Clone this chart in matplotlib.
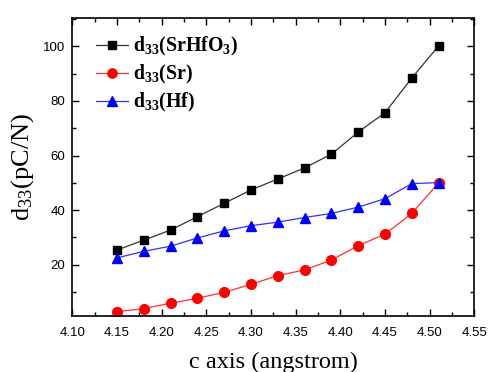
import matplotlib
matplotlib.use("Agg")
import matplotlib.pyplot as plt
from matplotlib.ticker import MultipleLocator, FormatStrFormatter

c_axis = [4.15, 4.18, 4.21, 4.24, 4.27, 4.30, 4.33, 4.36, 4.39, 4.42, 4.45, 4.48, 4.51]
d33_srhfo3 = [25.4, 29.0, 32.7, 37.6, 42.5, 47.4, 51.4, 55.5, 60.5, 68.6, 75.7, 88.4, 100.2]
d33_sr = [2.8, 3.9, 5.9, 7.7, 9.9, 12.8, 16.0, 18.1, 21.7, 27.0, 31.2, 38.8, 50.0]
d33_hf = [22.5, 24.9, 26.8, 29.8, 32.4, 34.3, 35.6, 37.3, 38.8, 41.1, 44.2, 49.7, 50.1]

plt.rcParams['mathtext.fontset'] = 'custom'
plt.rcParams['mathtext.rm'] = 'Liberation Serif'
plt.rcParams['mathtext.bf'] = 'Liberation Serif:bold'
plt.rcParams['mathtext.it'] = 'Liberation Serif:italic'

fig = plt.figure(figsize=(4.9, 3.72), dpi=100)
ax = fig.add_axes([0.1476, 0.1505, 0.8204, 0.8003])

ax.plot(c_axis, d33_srhfo3, color='#333333', lw=0.9, marker='s', ms=6,
        mfc='black', mec='black', label=r'$\mathbf{d_{33}(SrHfO_{3})}$')
ax.plot(c_axis, d33_sr, color='#ff3030', lw=0.9, marker='o', ms=7,
        mfc='red', mec='red', label=r'$\mathbf{d_{33}(Sr)}$')
ax.plot(c_axis, d33_hf, color='#3030ff', lw=0.9, marker='^', ms=7.5,
        mfc='blue', mec='blue', label=r'$\mathbf{d_{33}(Hf)}$')

ax.set_xlim(4.10, 4.55)
ax.set_ylim(1.2, 110.3)
ax.xaxis.set_major_locator(MultipleLocator(0.05))
ax.xaxis.set_minor_locator(MultipleLocator(0.025))
ax.yaxis.set_major_locator(MultipleLocator(20))
ax.yaxis.set_minor_locator(MultipleLocator(10))
ax.xaxis.set_major_formatter(FormatStrFormatter('%.2f'))

ax.tick_params(which='both', direction='in', top=True, right=True, width=1.0)
ax.tick_params(which='major', length=5, labelsize=9.5)
ax.tick_params(axis='x', which='major', pad=8)
ax.tick_params(axis='y', which='major', pad=5)
ax.tick_params(which='minor', length=3)
for lab in ax.get_xticklabels() + ax.get_yticklabels():
    lab.set_family('Liberation Sans')
for s in ax.spines.values():
    s.set_linewidth(1.2)

ax.set_xlabel('c axis (angstrom)', family='Liberation Serif', fontsize=17.5, labelpad=9)
ax.set_ylabel(r'd$_{33}$(pC/N)', family='Liberation Serif', fontsize=19, labelpad=5)

leg = ax.legend(loc='upper left', bbox_to_anchor=(0.059, 0.944), frameon=False,
                prop={'family': 'Liberation Serif', 'size': 14.3, 'weight': 'bold'},
                handlelength=1.6, handletextpad=0.25, labelspacing=0.25,
                borderaxespad=0.0, borderpad=0.0, markerscale=0.95)

fig.savefig('out.png', dpi=100)
